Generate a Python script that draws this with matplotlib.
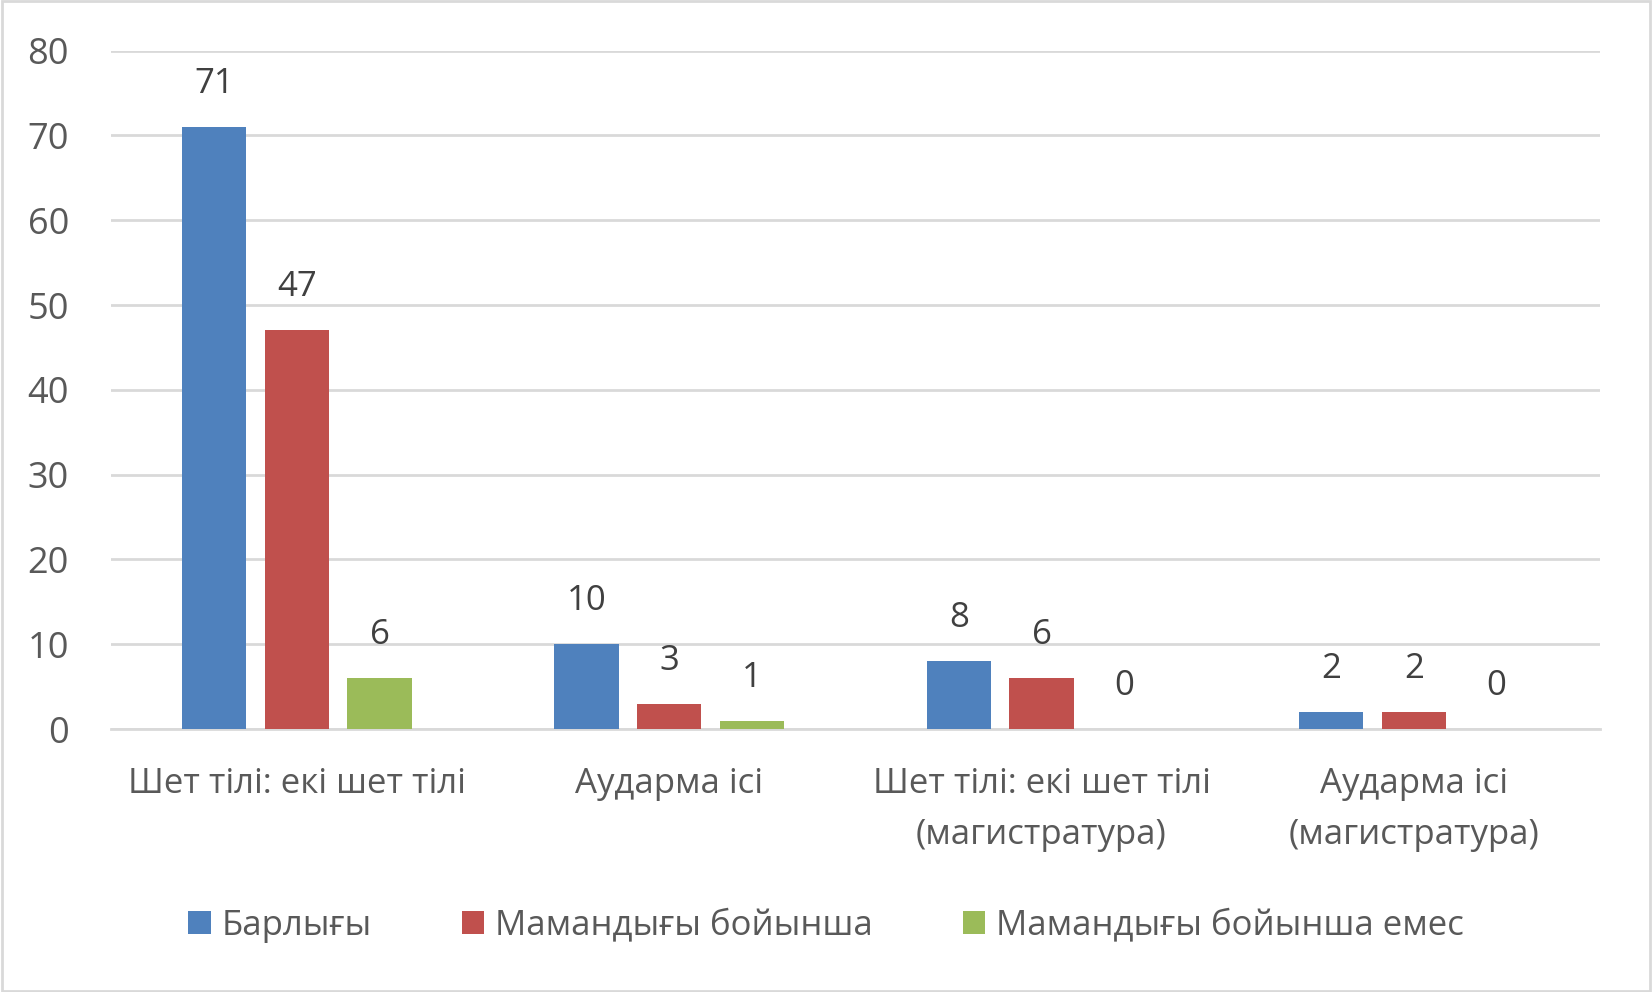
import matplotlib.pyplot as plt
import numpy as np

plt.rcParams['font.family'] = ['Open Sans', 'DejaVu Sans']

categories = ['Шет тілі: екі шет тілі', 'Аударма ісі',
              'Шет тілі: екі шет тілі\n(магистратура)', 'Аударма ісі\n(магистратура)']
series_names = ['Барлығы', 'Мамандығы бойынша', 'Мамандығы бойынша емес']
barlygy = [71, 10, 8, 2]
mamandygy = [47, 3, 6, 2]
emes = [6, 1, 0, 0]
yticks = [0, 10, 20, 30, 40, 50, 60, 70, 80]

colors = ['#4F81BD', '#C0504D', '#9BBB59']
text_color = '#595959'

fig = plt.figure(figsize=(16.52, 9.92), dpi=100)
ax = fig.add_axes([0.067, 0.265, 0.9015, 0.684])

x = np.arange(len(categories))
w = 0.173
step = 0.222
for i, (vals, name) in enumerate(zip([barlygy, mamandygy, emes], series_names)):
    pos = x + (i - 1) * step
    ax.bar(pos, vals, width=w, color=colors[i], label=name, zorder=3)
    for p, v in zip(pos, vals):
        ax.annotate(str(v), (p, v), xytext=(0, 31), textcoords='offset points',
                    ha='center', va='center', fontsize=25, color='#404040')

ax.set_xlim(-0.5, len(categories) - 0.5)
ax.set_ylim(0, 80)
ax.set_yticks(yticks)
ax.set_xticks(x)
ax.set_xticklabels(categories, fontsize=25, color=text_color, linespacing=1.65)
ax.tick_params(axis='y', labelsize=26, colors=text_color, length=0, pad=30)
ax.tick_params(axis='x', length=0, pad=27)
ax.grid(axis='y', color='#d9d9d9', linewidth=2, zorder=0)
for s in ['top', 'right', 'left']:
    ax.spines[s].set_visible(False)
ax.spines['bottom'].set_color('#d9d9d9')
ax.spines['bottom'].set_linewidth(2)

fig.legend(loc='center', bbox_to_anchor=(0.5, 0.067), ncol=3, frameon=False,
           fontsize=25, labelcolor=text_color, handlelength=0.65, handleheight=0.65,
           handletextpad=0.3, columnspacing=2.6)

fig.patches.append(plt.Rectangle((0.001, 0.001), 0.998, 0.998, transform=fig.transFigure,
                                 fill=False, edgecolor='#d9d9d9', linewidth=2))

fig.savefig('out.png', dpi=100)
